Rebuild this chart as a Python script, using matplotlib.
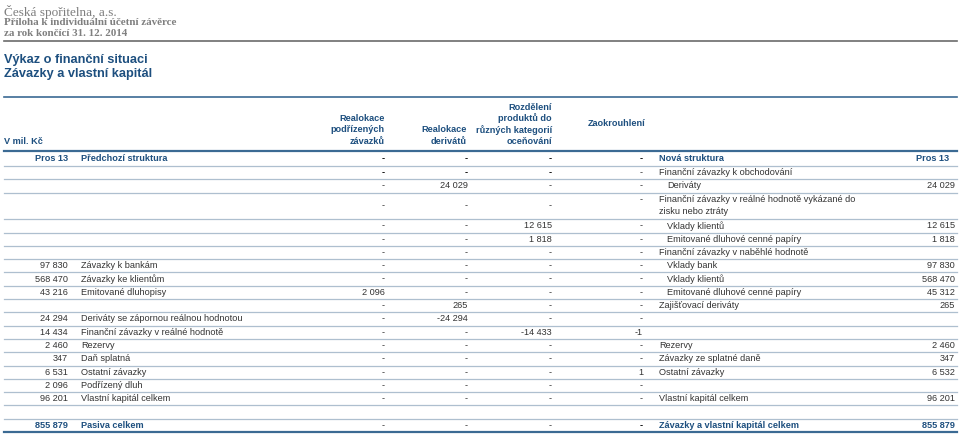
import numpy as np
import matplotlib.pyplot as plt

# --- table content (V mil. Kč) ---
left_vals = ["Pros 13", "", "", "", "", "", "", "97 830", "568 470", "43 216", "",
             "24 294", "14 434", "2 460", "347", "6 531", "2 096", "96 201", "", "855 879"]
left_labels = ["Předchozí struktura", "", "", "", "", "", "", "Závazky k bankám",
               "Závazky ke klientům", "Emitované dluhopisy", "",
               "Deriváty se zápornou reálnou hodnotou", "Finanční závazky v reálné hodnotě",
               "Rezervy", "Daň splatná", "Ostatní závazky", "Podřízený dluh",
               "Vlastní kapitál celkem", "", "Pasiva celkem"]
realok_podriz = ["-", "-", "-", "-", "-", "-", "-", "-", "-", "2 096", "-", "-", "-",
                 "-", "-", "-", "-", "-", "", "-"]
realok_deriv = ["-", "-", "24 029", "-", "-", "-", "-", "-", "-", "-", "265", "-24 294",
                "-", "-", "-", "-", "-", "-", "", "-"]
rozdeleni = ["-", "-", "-", "-", "12 615", "1 818", "-", "-", "-", "-", "-", "-",
             "-14 433", "-", "-", "-", "-", "-", "", "-"]
zaokrouhleni = ["-", "-", "-", "-", "-", "-", "-", "-", "-", "-", "-", "-", "-1",
                "-", "-", "1", "-", "-", "", "-"]
right_labels = ["Nová struktura", "Finanční závazky k obchodování", "Deriváty",
                "Finanční závazky v reálné hodnotě vykázané do\nzisku nebo ztráty",
                "Vklady klientů", "Emitované dluhové cenné papíry",
                "Finanční závazky v naběhlé hodnotě", "Vklady bank", "Vklady klientů",
                "Emitované dluhové cenné papíry", "Zajišťovací deriváty", "", "",
                "Rezervy", "Závazky ze splatné daně", "Ostatní závazky", "",
                "Vlastní kapitál celkem", "", "Závazky a vlastní kapitál celkem"]
right_vals = ["Pros 13", "", "24 029", "", "12 615", "1 818", "", "97 830", "568 470",
              "45 312", "265", "", "", "2 460", "347", "6 532", "", "96 201", "", "855 879"]
indented = [2, 4, 5, 7, 8, 9]
bold_rows = [0, 19]
col_headers = ["Realokace\npodřízených\nzávazků", "Realokace\nderivátů",
               "Rozdělení\nproduktů do\nrůzných kategorií\noceňování", "Zaokrouhlení"]

BLUE = "#1d4f7f"
TXT = "#333333"
SANS = "Liberation Sans"
SERIF = "Liberation Serif"
fs = 6.6

fig = plt.figure(figsize=(9.6, 4.38), dpi=100)
ax = fig.add_axes([0, 0, 1, 1])
ax.set_xlim(0, 960)
ax.set_ylim(438, 0)
ax.axis("off")

# page heading
ax.text(4, 12, "Česká spořitelna, a.s.", family=SERIF, fontsize=9.5, color="#7f7f7f", va="center")
ax.text(4, 22.5, "Příloha k individuální účetní závěrce", family=SERIF, fontsize=7.9,
        fontweight="bold", color="#7f7f7f", va="center")
ax.text(4, 33, "za rok končící 31. 12. 2014", family=SERIF, fontsize=7.9,
        fontweight="bold", color="#7f7f7f", va="center")
ax.plot([4, 957], [40.5, 40.5], color="#6b6b6b", lw=1.2)

ax.text(4, 60, "Výkaz o finanční situaci", family=SANS, fontsize=9.2,
        fontweight="bold", color=BLUE, va="center")
ax.text(4, 74, "Závazky a vlastní kapitál", family=SANS, fontsize=9.2,
        fontweight="bold", color=BLUE, va="center")
ax.plot([4, 957], [97, 97], color="#3b6a93", lw=1.2)

# column header
ax.text(4, 141, "V mil. Kč", family=SANS, fontsize=fs, fontweight="bold", color=BLUE, va="center")
col_x = [385, 468, 552, 643]
head_x = [385, 467, 552, 646]
for hx, h in zip(head_x, col_headers):
    lines = h.split("\n")
    for j, line in enumerate(lines):
        yy = 141 - (len(lines) - 1 - j) * 11.3
        if h == "Zaokrouhlení":
            yy = 124
        ax.text(hx, yy, line, family=SANS, fontsize=fs, fontweight="bold",
                color=BLUE, va="center", ha="right")
ax.plot([4, 957], [150.5, 150.5], color="#3b6a93", lw=1.6)

# rows
heights = [15.5] + [13.3] * 19
heights[3] = 26.6
tops = 150.5 + np.concatenate([[0], np.cumsum(heights)[:-1]])
bottoms = tops + np.array(heights)

cols = [realok_podriz, realok_deriv, rozdeleni, zaokrouhleni]
for i in range(len(heights)):
    yc = tops[i] + heights[i] / 2 + (0.7 if i == 0 else 0)
    bold = i in bold_rows
    w = "bold" if bold else "normal"
    c = BLUE if bold else TXT
    ax.text(68, yc, left_vals[i], family=SANS, fontsize=fs, fontweight=w, color=c,
            ha="right", va="center")
    ax.text(81, yc, left_labels[i], family=SANS, fontsize=fs, fontweight=w, color=c,
            va="center")
    for k, (x, col) in enumerate(zip(col_x, cols)):
        y = yc
        if i == 3 and k == 3:
            y = tops[i] + 6.65
        dash_bold = (i in (0, 1) and k < 3) or (i == 0) or (i == 19 and k == 3)
        ax.text(x, y, col[i], family=SANS, fontsize=fs,
                fontweight="bold" if dash_bold else "normal",
                color="black" if dash_bold else TXT, ha="right", va="center")
    lx = 667 if i in indented else 659
    if i == 3:
        for j, line in enumerate(right_labels[i].split("\n")):
            ax.text(lx, tops[i] + 6.65 + j * 12.5, line, family=SANS, fontsize=fs,
                    color=TXT, va="center")
    else:
        ax.text(lx, yc, right_labels[i], family=SANS, fontsize=fs, fontweight=w,
                color=c, va="center")
    ax.text(949 if i == 0 else 955, yc, right_vals[i], family=SANS, fontsize=fs,
            fontweight=w, color=c, ha="right", va="center")
    if i < len(heights) - 1:
        ax.plot([4, 957], [bottoms[i], bottoms[i]], color="#aebfcf", lw=0.9)

ax.plot([4, 957], [bottoms[-1], bottoms[-1]], color="#3b6a93", lw=1.6)

fig.savefig("out.png", dpi=100)
